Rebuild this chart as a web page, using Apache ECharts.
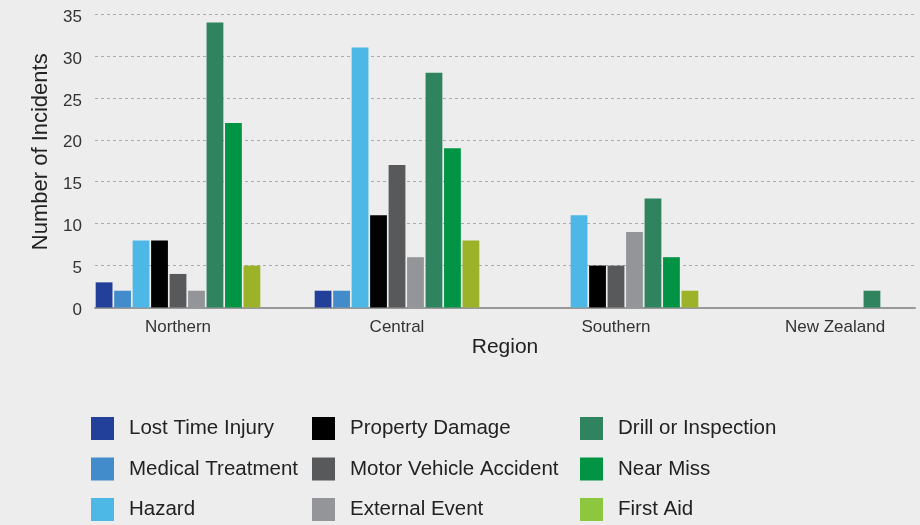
<!DOCTYPE html>
<html><head><meta charset="utf-8">
<script src="https://cdn.jsdelivr.net/npm/echarts@6/dist/echarts.min.js"></script>
<style>html,body{margin:0;padding:0;background:#ededed}#c{width:920px;height:525px}</style>
</head><body><div id="c"></div>
<script>
const regions = ['Northern', 'Central', 'Southern', 'New Zealand'];
const seriesNames = ['Lost Time Injury', 'Medical Treatment', 'Hazard', 'Property Damage', 'Motor Vehicle Accident', 'External Event', 'Drill or Inspection', 'Near Miss', 'First Aid'];
const lostTimeInjury = [3, 2, 0, 0];
const medicalTreatment = [2, 2, 0, 0];
const hazard = [8, 31, 11, 0];
const propertyDamage = [8, 11, 5, 0];
const motorVehicleAccident = [4, 17, 5, 0];
const externalEvent = [2, 6, 9, 0];
const drillOrInspection = [34, 28, 13, 2];
const nearMiss = [22, 19, 6, 0];
const firstAid = [5, 8, 2, 0];
const yTicks = [0, 5, 10, 15, 20, 25, 30, 35];

const values = [lostTimeInjury, medicalTreatment, hazard, propertyDamage, motorVehicleAccident, externalEvent, drillOrInspection, nearMiss, firstAid];
const colors = ['#22409a', '#438ccb', '#4db8e6', '#000000', '#58595b', '#939598', '#2f845f', '#009444', '#9cb229'];
const legendColors = ['#22409a', '#438ccb', '#4db8e6', '#000000', '#58595b', '#939598', '#2f845f', '#009444', '#8dc63f'];
const FONT = 'Liberation Sans';

const chart = echarts.init(document.getElementById('c'), null, {renderer: 'canvas'});
function legendCol(idx, left) {
  return {
    orient: 'vertical', left: left, top: 417, itemWidth: 23, itemHeight: 23, itemGap: 17.5,
    padding: 0, icon: 'rect', selectedMode: false,
    textStyle: {fontFamily: FONT, fontSize: 20.5, color: '#222', padding: [0, 0, 0, 10]},
    data: idx.map(i => ({name: seriesNames[i], itemStyle: {color: legendColors[i]}}))
  };
}
const option = {
  backgroundColor: '#ededed',
  animation: false,
  textStyle: {fontFamily: FONT},
  legend: [legendCol([0, 1, 2], 91), legendCol([3, 4, 5], 312), legendCol([6, 7, 8], 580)],
  grid: [
    {left: 95, right: 5, top: 14, bottom: 217.5, outerBoundsMode: 'none'},
    {left: 68.5, width: 876, top: 14, bottom: 217.5, outerBoundsMode: 'none'}
  ],
  xAxis: [
    {type: 'value', gridIndex: 0, min: 0, max: 1, show: true,
     axisLine: {show: true, lineStyle: {color: '#999', width: 2}},
     axisTick: {show: false}, axisLabel: {show: false}, splitLine: {show: false},
     name: 'Region', nameLocation: 'middle', nameGap: 29,
     nameTextStyle: {fontFamily: FONT, fontSize: 21, color: '#222'}},
    {type: 'category', gridIndex: 1, data: regions,
     axisLine: {show: false}, axisTick: {show: false},
     axisLabel: {margin: 11, fontFamily: FONT, fontSize: 17, color: '#333'}}
  ],
  yAxis: [
    {type: 'value', gridIndex: 0, min: 0, max: 35, interval: 5,
     axisLine: {show: false}, axisTick: {show: false},
     axisLabel: {margin: 13,
       formatter: v => yTicks.includes(v) ? '{v|' + v + '}' : '',
       rich: {v: {fontFamily: FONT, fontSize: 17, color: '#333', padding: [6, 0, 0, 0]}}},
     splitLine: {show: true, lineStyle: {color: '#aaa', type: [3, 3], width: 1}},
     name: 'Number of Incidents', nameLocation: 'middle', nameGap: 40,
     nameTextStyle: {fontFamily: FONT, fontSize: 22, color: '#222', padding: [0, 0, 0, 18]}},
    {type: 'value', gridIndex: 1, min: 0, max: 35, show: false}
  ],
  series: seriesNames.map((n, i) => ({
    name: n, type: 'bar', xAxisIndex: 1, yAxisIndex: 1,
    data: values[i], barWidth: 16.8, barGap: '10%',
    itemStyle: {color: colors[i]}
  }))
};
chart.setOption(option);
</script></body></html>
